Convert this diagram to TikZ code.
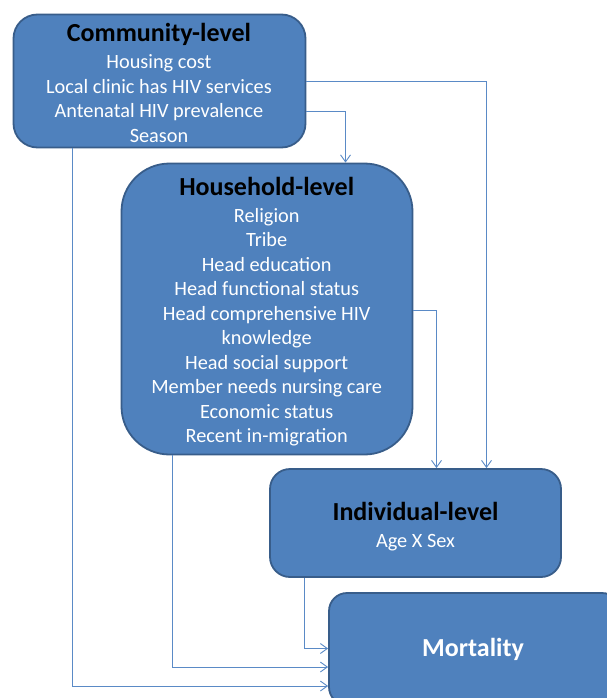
\documentclass[tikz,border=0pt]{standalone}
\usepackage{fontspec}
\setmainfont{Carlito}
\usetikzlibrary{arrows.meta}
\definecolor{boxfill}{HTML}{4F81BD}
\definecolor{boxline}{HTML}{385D8A}
\definecolor{conncol}{HTML}{5A8AC6}
\tikzset{
  lvlbox/.style={draw=boxline, line width=1.8pt, fill=boxfill, inner sep=0pt},
  lvltext/.style={align=center, text=white, inner sep=0pt, font=\fontsize{20.3}{24.5}\selectfont},
  conn/.style={draw=conncol, line width=0.9pt, -{Straight Barb[length=7pt,width=10pt,line width=0.9pt]}},
}
\newcommand{\lvltitle}[1]{{\fontsize{26}{24.5}\selectfont\bfseries\color{black}#1}}
\begin{document}
\begin{tikzpicture}[x=1pt,y=-1pt]
\useasboundingbox (0,0) rectangle (607,698);
\clip (0,0) rectangle (607,698);
\fill[white] (0,0) rectangle (607,698);
\node[lvlbox, rounded corners=24pt, minimum width=292pt, minimum height=133pt] (comm) at (159.5,81) {};
\node[lvlbox, rounded corners=48pt, minimum width=291pt, minimum height=291pt] (hh) at (267,309) {};
\node[lvlbox, rounded corners=20pt, minimum width=291pt, minimum height=108pt] (ind) at (415.5,523) {};
\node[lvlbox, rounded corners=18pt, minimum width=291pt, minimum height=112pt] (mort) at (474.5,649) {};
\node[lvltext] (commtxt) at (159,82.5)
  {\lvltitle{Community-level}\\[3pt]Housing cost\\Local clinic has HIV services\\Antenatal HIV prevalence\\Season};
\node[lvltext] (hhtxt) at (266.7,312)
  {\lvltitle{Household-level}\\[2pt]Religion\\Tribe\\Head education\\Head functional status\\Head comprehensive HIV\\knowledge\\Head social support\\Member needs nursing care\\Economic status\\Recent in-migration};
\node[lvltext] (indtxt) at (415.5,527)
  {\lvltitle{Individual-level}\\[2.5pt]Age X Sex};
\node[lvltext, font=\fontsize{26}{30}\selectfont\bfseries] (morttxt) at (473,649) {Mortality};
\coordinate (ya) at (0,81.5);
\coordinate (yb) at (0,111.5);
\coordinate (yc) at (0,310);
\coordinate (yd) at (0,648.5);
\coordinate (ye) at (0,667);
\coordinate (yf) at (0,686);
\coordinate (xa) at (486.5,0);
\coordinate (xb) at (345.5,0);
\coordinate (xc) at (436.5,0);
\coordinate (xd) at (72,0);
\coordinate (xe) at (172,0);
\coordinate (xf) at (304,0);
\draw[conn] (comm.east |- ya) -| (ind.north -| xa);
\draw[conn] (comm.east |- yb) -| (hh.north -| xb);
\draw[conn] (hh.east |- yc) -| (ind.north -| xc);
\draw[conn] (comm.south -| xd) |- (mort.west |- yf);
\draw[conn] (hh.south -| xe) |- (mort.west |- ye);
\draw[conn] (ind.south -| xf) |- (mort.west |- yd);
\end{tikzpicture}
\end{document}
